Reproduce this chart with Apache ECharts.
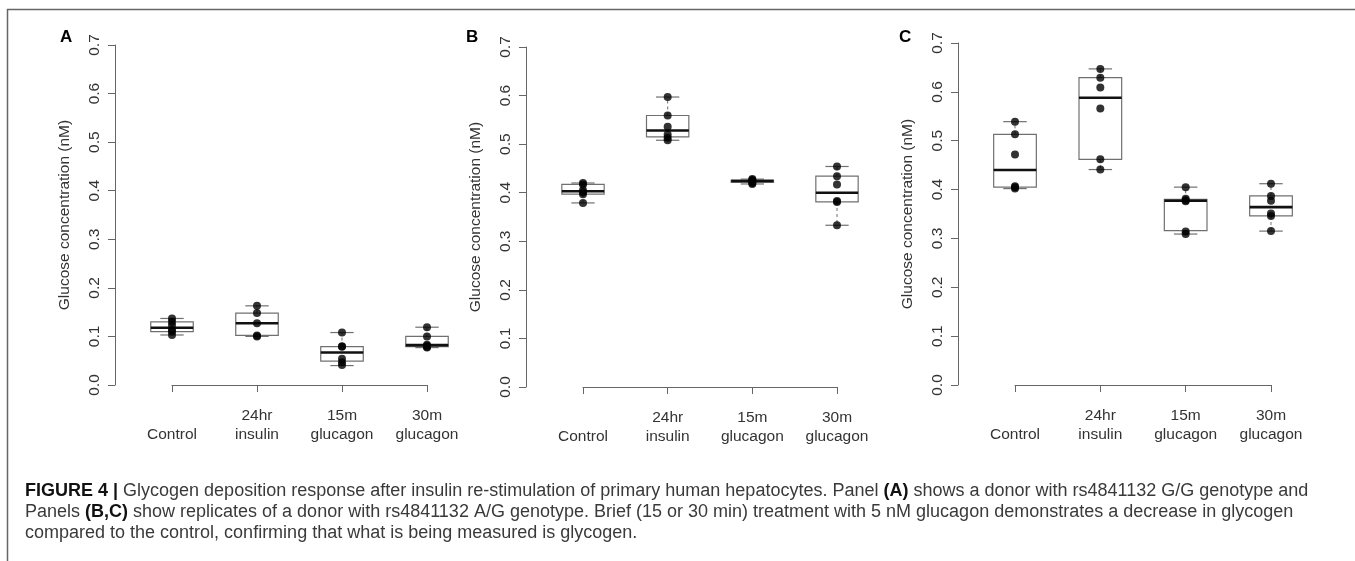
<!DOCTYPE html>
<html>
<head>
<meta charset="utf-8">
<script src="https://cdn.jsdelivr.net/npm/echarts@6/dist/echarts.min.js"></script>
<style>
html,body{margin:0;padding:0;background:#fff;}
#chart{width:1355px;height:561px;}
</style>
</head>
<body>
<div id="chart"></div>
<script>
// ---- Data ----
const categories = ['Control', '24hr insulin', '15m glucagon', '30m glucagon'];
const xTickLabels = ['\nControl', '24hr\ninsulin', '15m\nglucagon', '30m\nglucagon'];
const panelLabels = ['A', 'B', 'C'];
const yAxisTitle = 'Glucose concentration (nM)';

// box stats per group: [min, Q1, median, Q3, max]
const boxA = [
  [0.103, 0.110, 0.118, 0.130, 0.137],
  [0.100, 0.102, 0.127, 0.148, 0.163],
  [0.040, 0.049, 0.067, 0.079, 0.108],
  [0.077, 0.079, 0.082, 0.100, 0.119]
];
const pointsA = [
  [0.103, 0.110, 0.113, 0.123, 0.130, 0.137],
  [0.100, 0.102, 0.127, 0.148, 0.163],
  [0.041, 0.047, 0.054, 0.079, 0.080, 0.108],
  [0.077, 0.079, 0.081, 0.083, 0.100, 0.119]
];
const boxB = [
  [0.379, 0.397, 0.403, 0.417, 0.420],
  [0.508, 0.515, 0.528, 0.559, 0.597],
  [0.418, 0.421, 0.424, 0.426, 0.428],
  [0.333, 0.381, 0.400, 0.434, 0.454]
];
const pointsB = [
  [0.379, 0.397, 0.401, 0.405, 0.417, 0.420],
  [0.508, 0.513, 0.520, 0.536, 0.559, 0.597],
  [0.418, 0.420, 0.422, 0.425, 0.426, 0.428],
  [0.333, 0.381, 0.383, 0.417, 0.434, 0.454]
];
const boxC = [
  [0.402, 0.405, 0.440, 0.513, 0.539],
  [0.441, 0.462, 0.588, 0.629, 0.647],
  [0.309, 0.316, 0.377, 0.380, 0.405],
  [0.315, 0.346, 0.364, 0.387, 0.412]
];
const pointsC = [
  [0.402, 0.405, 0.407, 0.472, 0.513, 0.539],
  [0.441, 0.462, 0.566, 0.609, 0.629, 0.647],
  [0.309, 0.314, 0.376, 0.378, 0.381, 0.405],
  [0.315, 0.346, 0.351, 0.377, 0.387, 0.412]
];

const captionLines = [
  [['b', 'FIGURE 4 | '], ['n', 'Glycogen deposition response after insulin re-stimulation of primary human hepatocytes. Panel '], ['b', '(A)'], ['n', ' shows a donor with rs4841132 G/G genotype and']],
  [['n', 'Panels '], ['b', '(B,C)'], ['n', ' show replicates of a donor with rs4841132 A/G genotype. Brief (15 or 30 min) treatment with 5 nM glucagon demonstrates a decrease in glycogen']],
  [['n', 'compared to the control, confirming that what is being measured is glycogen.']]
];

// ---- Layout ----
const FONT = '"Liberation Sans", Arial, Helvetica, sans-serif';
const panels = [
  { box: boxA, pts: pointsA, grid: { left: 172, right: 928, top: 45, bottom: 176 }, label: [66, 37] },
  { box: boxB, pts: pointsB, grid: { left: 583, right: 518, top: 47, bottom: 174 }, label: [472, 37] },
  { box: boxC, pts: pointsC, grid: { left: 1015, right: 84, top: 43, bottom: 176 }, label: [905, 37] }
];

const grids = [], xAxes = [], yAxes = [], series = [], graphics = [];

panels.forEach((p, i) => {
  grids.push(Object.assign({ containLabel: false }, p.grid));
  xAxes.push({
    type: 'value', gridIndex: i, min: 1, max: 4, interval: 1, offset: 13,
    axisLine: { show: true, lineStyle: { color: '#666', width: 1 } },
    axisTick: { show: true, length: 7, lineStyle: { color: '#666' } },
    splitLine: { show: false },
    axisLabel: {
      show: true, margin: 8, fontSize: 15.5, lineHeight: 19, color: '#333', fontFamily: FONT,
      formatter: v => xTickLabels[Math.round(v) - 1] || ''
    }
  });
  yAxes.push({
    type: 'value', gridIndex: i, min: 0, max: 0.7, interval: 0.1, offset: 57,
    name: yAxisTitle, nameLocation: 'middle', nameRotate: 90, nameGap: 42,
    nameTextStyle: { fontSize: 15.5, color: '#333', fontFamily: FONT },
    axisLine: { show: true, lineStyle: { color: '#666', width: 1 } },
    axisTick: { show: true, length: 7, lineStyle: { color: '#666' } },
    splitLine: { show: false },
    axisLabel: {
      show: true, rotate: 90, margin: 12, fontSize: 15.5, color: '#333', fontFamily: FONT,
      formatter: v => v.toFixed(1)
    }
  });
  // box plots
  series.push({
    type: 'custom', xAxisIndex: i, yAxisIndex: i, clip: false, z: 2,
    data: p.box.map((b, k) => [k + 1].concat(b)),
    encode: { x: 0, y: [1, 2, 3, 4, 5] },
    renderItem: function (params, api) {
      const xv = api.value(0);
      const pt = k => api.coord([xv, api.value(k)]);
      const unit = api.size([1, 0])[0];
      const hw = unit * 0.25;
      const sw = hw * 0.55;
      const pMin = pt(1), pQ1 = pt(2), pMed = pt(3), pQ3 = pt(4), pMax = pt(5);
      const cx = pMed[0];
      const grey = '#707070';
      return {
        type: 'group',
        children: [
          { type: 'line', shape: { x1: cx, y1: pQ1[1], x2: cx, y2: pMin[1] }, style: { stroke: grey, lineWidth: 1, lineDash: [3, 3] } },
          { type: 'line', shape: { x1: cx, y1: pQ3[1], x2: cx, y2: pMax[1] }, style: { stroke: grey, lineWidth: 1, lineDash: [3, 3] } },
          { type: 'line', shape: { x1: cx - sw, y1: pMin[1], x2: cx + sw, y2: pMin[1] }, style: { stroke: grey, lineWidth: 1.2 } },
          { type: 'line', shape: { x1: cx - sw, y1: pMax[1], x2: cx + sw, y2: pMax[1] }, style: { stroke: grey, lineWidth: 1.2 } },
          { type: 'rect', shape: { x: cx - hw, y: pQ3[1], width: 2 * hw, height: pQ1[1] - pQ3[1] }, style: { fill: 'rgba(255,255,255,0)', stroke: grey, lineWidth: 1.2 } },
          { type: 'line', shape: { x1: cx - hw, y1: pMed[1], x2: cx + hw, y2: pMed[1] }, style: { stroke: '#111', lineWidth: 2.6 } }
        ]
      };
    }
  });
  // points
  const scat = [];
  p.pts.forEach((arr, k) => arr.forEach(v => scat.push([k + 1, v])));
  series.push({
    type: 'scatter', xAxisIndex: i, yAxisIndex: i, clip: false, z: 3,
    symbol: 'circle', symbolSize: 8, itemStyle: { color: '#000' },
    data: scat
  });
  graphics.push({
    type: 'text', left: p.label[0] - 6, top: p.label[1] - 8,
    style: { text: panelLabels[i], font: 'bold 17px ' + FONT, fill: '#000' }
  });
});

// frame lines
graphics.push({ type: 'line', shape: { x1: 7, y1: 9.5, x2: 1355, y2: 9.5 }, style: { stroke: '#666', lineWidth: 1.5 } });
graphics.push({ type: 'line', shape: { x1: 7.5, y1: 9, x2: 7.5, y2: 561 }, style: { stroke: '#666', lineWidth: 1.5 } });

// caption
captionLines.forEach((line, li) => {
  const txt = line.map(seg => '{' + seg[0] + '|' + seg[1].replace(/[{}]/g, '') + '}').join('');
  graphics.push({
    type: 'text', left: 25, top: 482 + li * 21,
    style: {
      text: txt,
      rich: {
        b: { font: 'bold 18px ' + FONT, fill: '#111' },
        n: { font: '18px ' + FONT, fill: '#3a3a3a' }
      }
    }
  });
});

const chart = echarts.init(document.getElementById('chart'), null, { renderer: 'canvas' });
chart.setOption({
  animation: false,
  backgroundColor: '#fff',
  grid: grids, xAxis: xAxes, yAxis: yAxes, series: series, graphic: graphics
});
</script>
</body>
</html>
